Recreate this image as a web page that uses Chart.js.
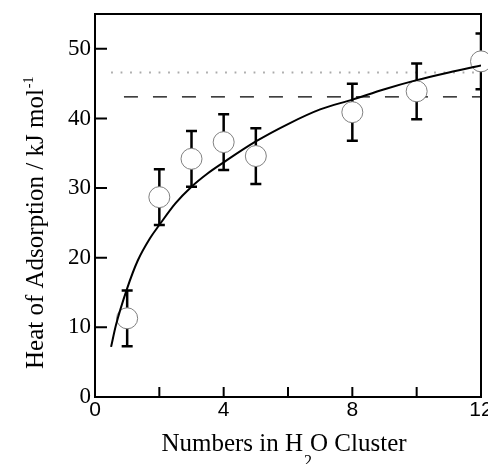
<!DOCTYPE html>
<html>
<head>
<meta charset="utf-8">
<script src="https://cdn.jsdelivr.net/npm/chart.js@4.4.1/dist/chart.umd.min.js"></script>
<style>
  html, body { margin: 0; padding: 0; background: #fff; }
  #wrap { width: 488px; height: 464px; }
</style>
</head>
<body>
<div id="wrap"><canvas id="heat-chart" width="488" height="464"></canvas></div>
<script>
// measured points with error bars
var clusterSizes = [1, 2, 3, 4, 5, 8, 10, 12];
var heatValues = [11.3, 28.7, 34.2, 36.6, 34.6, 40.9, 43.9, 48.2];
var heatErrors = [4.0, 4.0, 4.0, 4.0, 4.0, 4.1, 4.0, 4.0];

// fitted curve
var fitSizes = [0.5, 0.65, 1, 1.33, 1.71, 2, 2.5, 3, 3.5, 4, 5, 6, 7, 8, 9, 10, 11, 12];
var fitHeats = [7.2, 10.3, 15.6, 19.6, 22.8, 24.7, 27.8, 30.2, 32.1, 33.7, 36.7, 39.2, 41.3, 42.7, 44.2, 45.5, 46.6, 47.6];

// horizontal reference levels
var dottedSizes = [0.5, 12];
var dottedHeats = [46.6, 46.6];
var dashedSizes = [0.9, 12];
var dashedHeats = [43.1, 43.1];

// axes
var xMarkValues = [0, 2, 4, 6, 8, 10, 12];
var xLabelValues = [0, 4, 8, 12];
var yTickValues = [0, 10, 20, 30, 40, 50];

function toPoints(xs, ys){
  return xs.map(function(x, i){ return {x: x, y: ys[i]}; });
}

function drawParts(ctx, parts, x, y){
  parts.forEach(function(p){
    ctx.font = p.size + 'px "Liberation Serif"';
    ctx.fillText(p.text, x, y + p.shift);
    x += ctx.measureText(p.text).width + (p.gap || 0);
  });
}

function partsWidth(ctx, parts){
  var w = 0;
  parts.forEach(function(p){
    ctx.font = p.size + 'px "Liberation Serif"';
    w += ctx.measureText(p.text).width + (p.gap || 0);
  });
  return w;
}

function noEdgePadding(scale){
  scale.paddingLeft = 0;
  scale.paddingRight = 0;
  scale.paddingTop = 0;
  scale.paddingBottom = 0;
}

var framePlugin = {
  id: 'frameAndBars',
  beforeDatasetsDraw: function(chart){
    var ctx = chart.ctx, a = chart.chartArea;
    var xs = chart.scales.x, ys = chart.scales.y;
    ctx.save();
    ctx.strokeStyle = '#000';
    ctx.lineWidth = 2;
    ctx.strokeRect(a.left, a.top, a.right - a.left, a.bottom - a.top);
    ctx.beginPath();
    xs.ticks.forEach(function(t){
      if(t.value <= xs.min || t.value >= xs.max) return;
      var px = xs.getPixelForValue(t.value);
      ctx.moveTo(px, a.bottom);
      ctx.lineTo(px, a.bottom - 10);
    });
    ys.ticks.forEach(function(t){
      if(t.value <= ys.min) return;
      var py = ys.getPixelForValue(t.value);
      ctx.moveTo(a.left, py);
      ctx.lineTo(a.left + 12, py);
    });
    ctx.stroke();
    ctx.restore();
  },
  beforeDatasetDraw: function(chart, args){
    if(args.index !== 2) return;
    var ctx = chart.ctx, a = chart.chartArea;
    var xs = chart.scales.x, ys = chart.scales.y;
    ctx.save();
    ctx.beginPath();
    ctx.rect(a.left, a.top, a.right - a.left, a.bottom - a.top);
    ctx.clip();
    ctx.strokeStyle = '#000';
    ctx.lineWidth = 2.5;
    ctx.beginPath();
    clusterSizes.forEach(function(x, i){
      var px = xs.getPixelForValue(x);
      var top = ys.getPixelForValue(heatValues[i] + heatErrors[i]);
      var bot = ys.getPixelForValue(heatValues[i] - heatErrors[i]);
      ctx.moveTo(px, top);
      ctx.lineTo(px, bot);
      ctx.moveTo(px - 5.5, top);
      ctx.lineTo(px + 5.5, top);
      ctx.moveTo(px - 5.5, bot);
      ctx.lineTo(px + 5.5, bot);
    });
    ctx.stroke();
    ctx.restore();
  },
  afterDraw: function(chart){
    var ctx = chart.ctx, a = chart.chartArea;
    ctx.save();
    ctx.fillStyle = '#000';
    ctx.textAlign = 'left';
    ctx.textBaseline = 'alphabetic';
    var xParts = [
      {text: 'Numbers in H', size: 25, shift: 0, gap: 1},
      {text: '2', size: 16, shift: 15, gap: -2},
      {text: 'O Cluster', size: 25, shift: 0}
    ];
    var cx = (a.left + a.right) / 2 - 4;
    drawParts(ctx, xParts, cx - partsWidth(ctx, xParts) / 2, 451);

    var yParts = [
      {text: 'Heat of Adsorption / kJ mol', size: 25, shift: 0, gap: 1},
      {text: '-1', size: 14, shift: -10}
    ];
    ctx.translate(43, 369);
    ctx.rotate(-Math.PI / 2);
    drawParts(ctx, yParts, 0, 0);
    ctx.restore();
  }
};

var heatChartConfig = {
  type: 'scatter',
  data: {
    datasets: [{
      data: toPoints(dottedSizes, dottedHeats),
      showLine: true,
      borderColor: '#aaaaaa',
      borderWidth: 1.8,
      borderDash: [1.8, 7.7],
      pointRadius: 0,
      order: 4
    }, {
      data: toPoints(dashedSizes, dashedHeats),
      showLine: true,
      borderColor: '#000000',
      borderWidth: 1.2,
      borderDash: [14, 15],
      pointRadius: 0,
      order: 3
    }, {
      data: toPoints(clusterSizes, heatValues),
      pointRadius: 10.5,
      pointBackgroundColor: '#ffffff',
      pointBorderColor: '#808080',
      pointBorderWidth: 1,
      clip: false,
      order: 1
    }, {
      data: toPoints(fitSizes, fitHeats),
      showLine: true,
      borderColor: '#000000',
      borderWidth: 2,
      pointRadius: 0,
      cubicInterpolationMode: 'monotone',
      order: 0
    }]
  },
  options: {
    responsive: false,
    animation: false,
    events: [],
    layout: { autoPadding: false, padding: { top: 14, right: 7, left: 0, bottom: 0 } },
    plugins: {
      legend: { display: false },
      tooltip: { enabled: false }
    },
    scales: {
      x: {
        type: 'linear',
        min: 0,
        max: 12,
        afterBuildTicks: function(scale){
          scale.ticks = xMarkValues.map(function(v){ return {value: v}; });
        },
        afterFit: function(scale){ scale.height = 67; noEdgePadding(scale); },
        grid: { display: false, drawTicks: false },
        border: { display: false },
        ticks: {
          autoSkip: false,
          maxRotation: 0,
          padding: 1,
          color: '#000',
          font: { family: '"Liberation Sans"', size: 21 },
          callback: function(v){ return xLabelValues.indexOf(v) >= 0 ? String(v) : ''; }
        }
      },
      y: {
        type: 'linear',
        min: 0,
        max: 55,
        afterBuildTicks: function(scale){
          scale.ticks = yTickValues.map(function(v){ return {value: v}; });
        },
        afterFit: function(scale){ scale.width = 95; noEdgePadding(scale); },
        grid: { display: false, drawTicks: false },
        border: { display: false },
        ticks: {
          autoSkip: false,
          padding: 4,
          color: '#000',
          font: { family: '"Liberation Serif"', size: 23 }
        }
      }
    }
  },
  plugins: [framePlugin]
};

function createHeatChart(){
  var ctx = document.getElementById('heat-chart').getContext('2d');
  window.heatChart = new Chart(ctx, heatChartConfig);
}

createHeatChart();
</script>
</body>
</html>
